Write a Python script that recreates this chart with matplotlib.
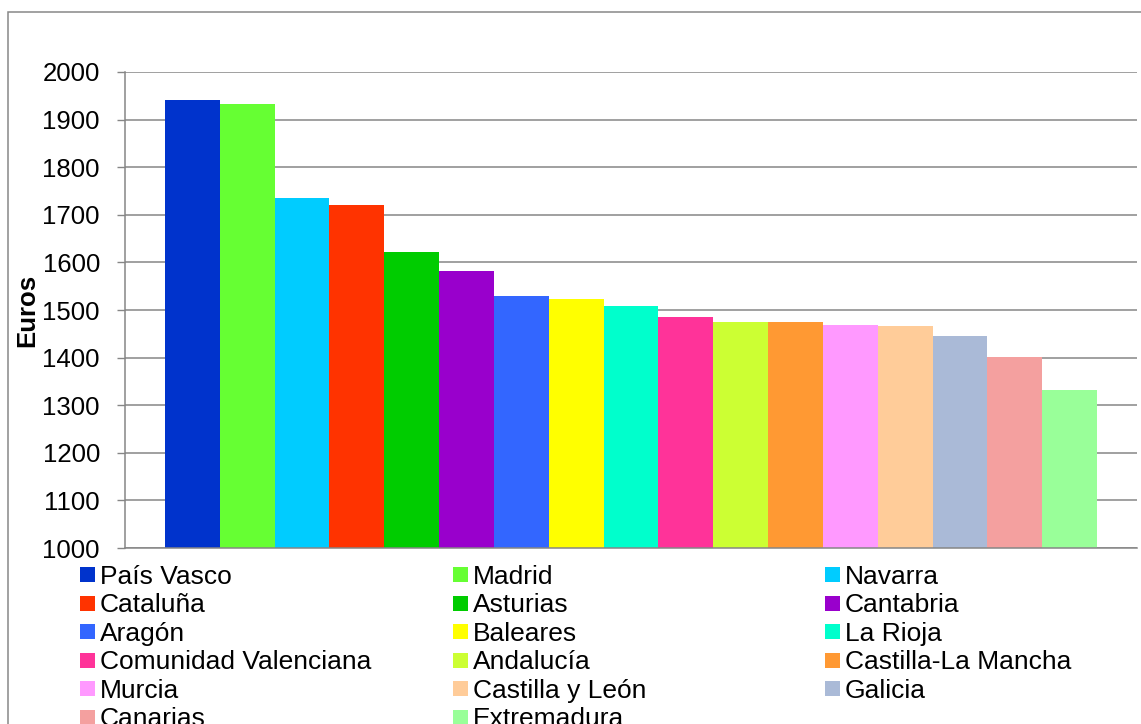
import matplotlib
matplotlib.use("Agg")
import matplotlib.pyplot as plt
from matplotlib.patches import Patch, Rectangle

plt.rcParams["font.family"] = ["Liberation Sans", "DejaVu Sans"]

# Average monthly wage by autonomous community (euros)
regions = [
    "País Vasco", "Madrid", "Navarra", "Cataluña", "Asturias", "Cantabria",
    "Aragón", "Baleares", "La Rioja", "Comunidad Valenciana", "Andalucía",
    "Castilla-La Mancha", "Murcia", "Castilla y León", "Galicia", "Canarias",
    "Extremadura",
]
euros = [
    1941, 1933, 1735, 1720, 1622, 1582,
    1529, 1523, 1508, 1485, 1475,
    1475, 1468, 1466, 1445, 1401,
    1332,
]
colors = [
    "#0033CC", "#66FF33", "#00CCFF", "#FF3300", "#00CC00", "#9900CC",
    "#3366FF", "#FFFF00", "#00FFCC", "#FF3399", "#CCFF33",
    "#FF9933", "#FF99FF", "#FFCC99", "#AABAD7", "#F4A09F",
    "#99FF99",
]
yticks = list(range(1000, 2001, 100))

W, H = 1141, 724
GRID = "#868686"
FS = 18.5
LEG_FS = 19

fig = plt.figure(figsize=(W / 100, H / 100), dpi=100)

# chart frame (runs off the right and bottom edge)
fig.patches.append(Rectangle((8 / W, -0.1), 1.2, 1.1 - 12 / H,
                             transform=fig.transFigure, fill=False,
                             edgecolor="#888888", linewidth=1.1))

ax = fig.add_axes([125 / W, 1 - 548 / H, (1137 - 125) / W, (548 - 72) / H])

x = list(range(len(regions)))
ax.bar(x, euros, width=1.0, color=colors, zorder=2, linewidth=0)

ax.set_ylim(1000, 2000)
ax.set_xlim(-1.2297, 17.2297)
ax.set_yticks(yticks)
ax.set_xticks([])
ax.yaxis.grid(True, color=GRID, linewidth=1.1, zorder=0)
ax.set_axisbelow(True)
ax.tick_params(axis="y", direction="out", length=5.8, width=1.0,
               color=GRID, pad=12.2, labelsize=FS)
for side in ("top", "right"):
    ax.spines[side].set_visible(False)
for side in ("left", "bottom"):
    ax.spines[side].set_color(GRID)
    ax.spines[side].set_linewidth(1.1)

fig.text(27.5 / W, 1 - 310 / H, "Euros", rotation=90, fontsize=FS,
         fontweight="bold", ha="center", va="center")

# legend laid out row by row in three columns
handles = [Patch(facecolor=c, edgecolor="none") for c in colors]
col_x = [80, 453, 825]
for k, cx in enumerate(col_x):
    idx = list(range(k, len(regions), 3))
    fig.legend([handles[i] for i in idx], [regions[i] for i in idx],
               loc="upper left", bbox_to_anchor=(cx / W, 1 - 565 / H),
               frameon=False, fontsize=LEG_FS, borderpad=0, borderaxespad=0,
               handlelength=0.55, handleheight=0.5, handletextpad=0.2,
               labelspacing=0.17)

fig.savefig("out.png", dpi=100)
